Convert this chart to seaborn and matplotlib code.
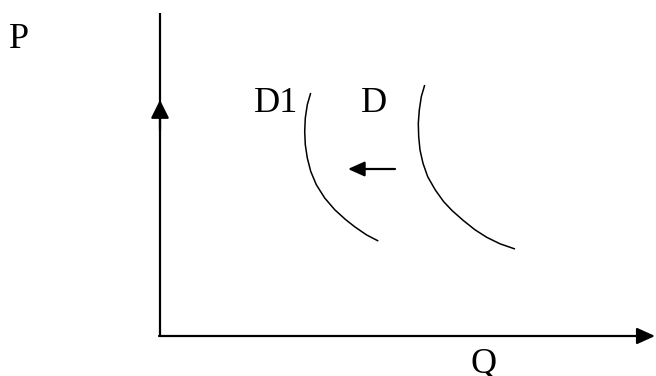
import matplotlib
matplotlib.use("Agg")
import matplotlib.pyplot as plt
import seaborn as sns

# demand curves (pixel coordinates, y grows downwards)
d1_x = [310.7, 307.3, 305.3, 304.7, 305.3, 307.3, 310.7, 316.3, 324.7, 334.7,
        345.5, 355.0, 366.7, 378.3]
d1_y = [93.0, 104.7, 118.0, 131.3, 144.7, 158.0, 171.3, 184.7, 198.0, 209.7,
        219.5, 227.0, 235.0, 241.0]
d_x = [424.7, 421.3, 419.3, 418.3, 418.7, 420.0, 423.0, 427.7, 435.3, 443.7,
       452.0, 463.3, 475.0, 486.7, 500.0, 515.0]
d_y = [85.0, 96.7, 110.0, 123.3, 136.7, 150.0, 163.3, 176.7, 190.0, 201.7,
       210.5, 220.5, 229.8, 237.3, 243.8, 249.0]

# axes and shift arrow
origin = (160, 336)
p_axis_top = 13
p_arrow_tip = 100
q_axis_end = 655
shift_tail = (395, 169)
shift_head = (348, 169)

labels = {"P": (9, 48), "D1": (254, 112), "D": (361, 112), "Q": (470, 373)}

sns.set_style("white")
plt.rcParams['font.family'] = ['Liberation Serif', 'DejaVu Serif']

fig = plt.figure(figsize=(6.56, 3.76), dpi=100)
ax = fig.add_axes([0, 0, 1, 1])
ax.set_xlim(0, 656)
ax.set_ylim(376, 0)
ax.axis("off")

# demand curves
for cx, cy in [(d1_x, d1_y), (d_x, d_y)]:
    sns.lineplot(x=cx, y=cy, sort=False, estimator=None, color="black", lw=1.1,
                 ax=ax, solid_joinstyle="round", solid_capstyle="butt")

# vertical P axis, with its arrowhead part way up
ax.plot([origin[0], origin[0]], [p_axis_top, origin[1]], color="black", lw=1.6,
        solid_capstyle="butt")
ax.annotate("", xy=(origin[0], p_arrow_tip), xytext=(origin[0], p_arrow_tip + 30),
            arrowprops=dict(arrowstyle="-|>,head_length=1.1,head_width=0.55",
                            color="black", lw=1.6, shrinkA=0, shrinkB=0))

# horizontal Q axis
ax.annotate("", xy=(q_axis_end, origin[1]), xytext=(origin[0] - 1, origin[1]),
            arrowprops=dict(arrowstyle="-|>,head_length=1.1,head_width=0.5",
                            color="black", lw=1.6, shrinkA=0, shrinkB=0))

# leftward shift arrow
ax.annotate("", xy=shift_head, xytext=shift_tail,
            arrowprops=dict(arrowstyle="-|>,head_length=1.0,head_width=0.45",
                            color="black", lw=1.6, shrinkA=0, shrinkB=0))

for txt, (x, y) in labels.items():
    ax.text(x, y, txt, fontsize=26, ha="left", va="baseline", color="black")

fig.savefig("out.png", dpi=100)
